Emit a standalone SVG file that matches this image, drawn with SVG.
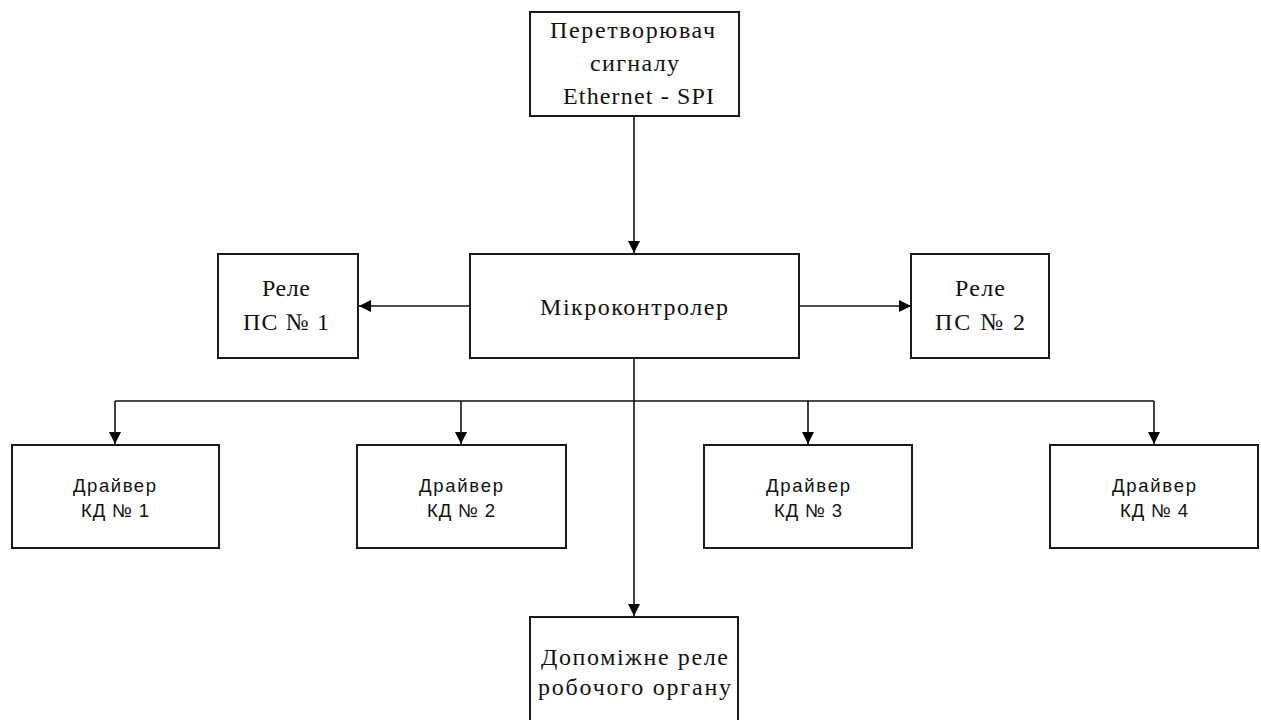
<svg xmlns="http://www.w3.org/2000/svg" width="1261" height="720" viewBox="0 0 1261 720">
<style>
.box{fill:#fff;stroke:#1a1a1a;stroke-width:2}
.ser{font-family:"Liberation Serif","Times New Roman",serif;font-size:24px;fill:#111}
.san{font-family:"Liberation Sans",Arial,sans-serif;font-size:18.5px;fill:#111}
.ln{fill:none;stroke:#111;stroke-width:1.6}
</style>
<defs>
<marker id="ah" viewBox="0 0 12 12" refX="12" refY="6" markerWidth="12" markerHeight="12" markerUnits="userSpaceOnUse" orient="auto">
<path d="M0,0 L12,6 L0,12 Z" fill="#000"/>
</marker>
</defs>
<rect width="1261" height="720" fill="#fff"/>
<g id="connectors">
<line class="ln" x1="634" y1="116" x2="634" y2="253" marker-end="url(#ah)"/>
<line class="ln" x1="470" y1="306" x2="359" y2="306" marker-end="url(#ah)"/>
<line class="ln" x1="799" y1="306" x2="911" y2="306" marker-end="url(#ah)"/>
<line class="ln" x1="634" y1="358" x2="634" y2="616" marker-end="url(#ah)"/>
<line class="ln" x1="115" y1="401" x2="1154" y2="401"/>
<line class="ln" x1="115" y1="401" x2="115" y2="444" marker-end="url(#ah)"/>
<line class="ln" x1="461" y1="401" x2="461" y2="444" marker-end="url(#ah)"/>
<line class="ln" x1="808" y1="401" x2="808" y2="444" marker-end="url(#ah)"/>
<line class="ln" x1="1154" y1="401" x2="1154" y2="444" marker-end="url(#ah)"/>
</g>
<g id="converter">
<rect class="box" x="530" y="12" width="209" height="104"/>
<text class="ser" x="550" y="38" textLength="165" lengthAdjust="spacing">Перетворювач</text>
<text class="ser" x="590" y="71" textLength="89" lengthAdjust="spacing">сигналу</text>
<text class="ser" x="563" y="104" textLength="151" lengthAdjust="spacing">Ethernet - SPI</text>
</g>
<g id="mcu">
<rect class="box" x="470" y="254" width="329" height="104"/>
<text class="ser" x="540" y="315" textLength="188" lengthAdjust="spacing">Мікроконтролер</text>
</g>
<g id="relay1">
<rect class="box" x="218" y="254" width="140" height="104"/>
<text class="ser" x="262" y="296" textLength="48" lengthAdjust="spacing">Реле</text>
<text class="ser" x="243" y="330" textLength="86" lengthAdjust="spacing">ПС № 1</text>
</g>
<g id="relay2">
<rect class="box" x="911" y="254" width="138" height="104"/>
<text class="ser" x="955" y="296" textLength="50" lengthAdjust="spacing">Реле</text>
<text class="ser" x="935" y="330" textLength="90" lengthAdjust="spacing">ПС № 2</text>
</g>
<g id="driver1">
<rect class="box" x="12" y="445" width="207" height="103"/>
<text class="san" x="73" y="492" textLength="83" lengthAdjust="spacing">Драйвер</text>
<text class="san" x="81" y="517" textLength="68" lengthAdjust="spacing">КД № 1</text>
</g>
<g id="driver2">
<rect class="box" x="357" y="445" width="209" height="103"/>
<text class="san" x="419" y="492" textLength="84" lengthAdjust="spacing">Драйвер</text>
<text class="san" x="427" y="517" textLength="68" lengthAdjust="spacing">КД № 2</text>
</g>
<g id="driver3">
<rect class="box" x="704" y="445" width="208" height="103"/>
<text class="san" x="766" y="492" textLength="84" lengthAdjust="spacing">Драйвер</text>
<text class="san" x="774" y="517" textLength="68" lengthAdjust="spacing">КД № 3</text>
</g>
<g id="driver4">
<rect class="box" x="1050" y="445" width="208" height="103"/>
<text class="san" x="1112" y="492" textLength="84" lengthAdjust="spacing">Драйвер</text>
<text class="san" x="1120" y="517" textLength="68" lengthAdjust="spacing">КД № 4</text>
</g>
<g id="aux-relay">
<rect class="box" x="530" y="617" width="208" height="130"/>
<text class="ser" x="541" y="665" textLength="187" lengthAdjust="spacing">Допоміжне реле</text>
<text class="ser" x="538" y="695" textLength="193" lengthAdjust="spacing">робочого органу</text>
</g>
</svg>
